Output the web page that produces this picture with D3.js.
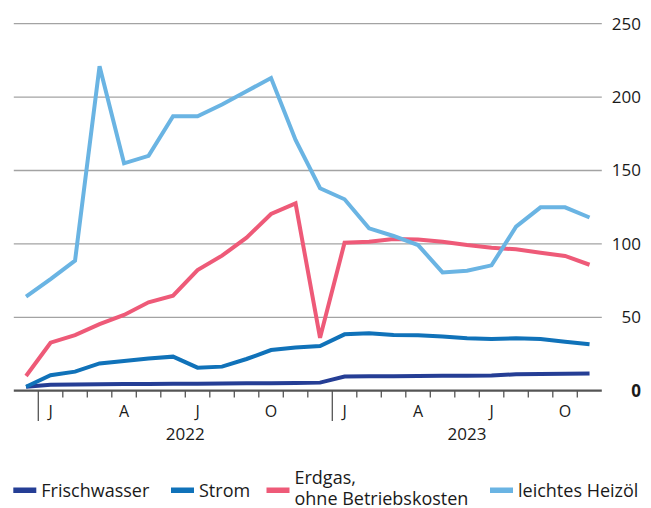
<!DOCTYPE html>
<html>
<head>
<meta charset="utf-8">
<script src="https://cdn.jsdelivr.net/npm/d3@7"></script>
<style>
  body { margin: 0; background: #fff; }
  svg { font-family: "Open Sans", sans-serif; }
</style>
</head>
<body>
<svg width="651" height="508"></svg>
<script>
// months Dec 2021 .. Nov 2023
var months = ["2021-12",
  "2022-01","2022-02","2022-03","2022-04","2022-05","2022-06","2022-07","2022-08","2022-09","2022-10","2022-11","2022-12",
  "2023-01","2023-02","2023-03","2023-04","2023-05","2023-06","2023-07","2023-08","2023-09","2023-10","2023-11"];

var frischwasser = [2.7, 4.0, 4.2, 4.4, 4.5, 4.6, 4.7, 4.8, 4.9, 5.0, 5.1, 5.3, 5.5,
  9.7, 9.8, 9.9, 10.0, 10.1, 10.2, 10.3, 11.2, 11.4, 11.6, 11.8];
var strom = [2.7, 10.5, 13, 18.6, 20.2, 22, 23.2, 15.7, 16.4, 21.6, 27.7, 29.5, 30.4,
  38.4, 39.1, 37.9, 37.7, 37, 35.7, 35.2, 35.7, 35.2, 33.4, 31.6];
var erdgas = [10, 32.7, 37.9, 45.4, 51.6, 60.2, 64.7, 82.2, 92, 104.2, 120.4, 127.6, 36,
  100.8, 101.5, 103.3, 103, 101.5, 99.2, 97.4, 96.3, 94, 91.8, 85.8];
var heizoel = [64, 76, 88.6, 221, 154.9, 160, 187, 187, 195, 204, 213, 170.8, 137.9,
  130.4, 110.6, 105.4, 99.2, 80.6, 81.7, 85.4, 111.7, 124.9, 124.9, 118];

var seriesNames = ["Frischwasser", "Strom", "Erdgas,|ohne Betriebskosten", "leichtes Heizöl"];
var seriesColors = ["#253e95", "#1072b9", "#ee5a78", "#6ab4e3"];
var yTicks = [0, 50, 100, 150, 200, 250];
var monthLetters = ["J","F","M","A","M","J","J","A","S","O","N","D"];
var years = ["2022", "2023"];

var svg = d3.select("svg");

var x = d3.scaleBand()
    .domain(months)
    .range([13.8, 601.8])
    .padding(0);

var y = d3.scaleLinear()
    .domain([0, 250])
    .range([390.7, 23.7]);

var cx = function(m) { return x(m) + x.bandwidth() / 2; };

// grid lines
svg.append("g")
  .selectAll("line")
  .data(yTicks.filter(function(d) { return d > 0; }))
  .enter().append("line")
    .attr("x1", 13.8)
    .attr("x2", 601.8)
    .attr("y1", function(d) { return y(d); })
    .attr("y2", function(d) { return y(d); })
    .attr("stroke", "#a3a3a3")
    .attr("stroke-width", 1.3);

// y labels on the right
svg.append("g")
  .selectAll("text")
  .data(yTicks)
  .enter().append("text")
    .attr("x", 641)
    .attr("y", function(d) { return y(d); })
    .attr("dy", "0.35em")
    .attr("text-anchor", "end")
    .attr("font-size", 17)
    .attr("font-weight", function(d) { return d == 0 ? "bold" : "normal"; })
    .attr("fill", "#1a1a1a")
    .text(function(d) { return d; });

// x axis ticks at month boundaries
svg.append("g")
  .selectAll("line")
  .data(months.slice(1))
  .enter().append("line")
    .attr("x1", function(d) { return x(d); })
    .attr("x2", function(d) { return x(d); })
    .attr("y1", y(0))
    .attr("y2", function(d) { return d.slice(5) == "01" ? 421 : 397.5; })
    .attr("stroke", "#555")
    .attr("stroke-width", 1.3);

svg.append("line")
    .attr("x1", 13.8)
    .attr("x2", 601.8)
    .attr("y1", y(0))
    .attr("y2", y(0))
    .attr("stroke", "#555")
    .attr("stroke-width", 2.2);

// month letters
svg.append("g")
  .selectAll("text")
  .data(months.filter(function(d) { return ["01","04","07","10"].indexOf(d.slice(5)) >= 0; }))
  .enter().append("text")
    .attr("x", cx)
    .attr("y", 417)
    .attr("text-anchor", "middle")
    .attr("font-size", 16)
    .attr("fill", "#1a1a1a")
    .text(function(d) { return monthLetters[+d.slice(5) - 1]; });

// year labels
svg.append("g")
  .selectAll("text")
  .data(years)
  .enter().append("text")
    .attr("x", function(yr) {
      var ms = months.filter(function(m) { return m.slice(0, 4) == yr; });
      return (x(ms[0]) + x(ms[ms.length - 1]) + x.bandwidth()) / 2;
    })
    .attr("y", 440)
    .attr("text-anchor", "middle")
    .attr("font-size", 17)
    .attr("fill", "#1a1a1a")
    .text(function(d) { return d; });

// lines
var line = d3.line()
    .x(function(d, i) { return cx(months[i]); })
    .y(function(d) { return y(d); });

var allSeries = [frischwasser, strom, erdgas, heizoel];

svg.append("g")
  .selectAll("path")
  .data(allSeries)
  .enter().append("path")
    .attr("d", line)
    .attr("fill", "none")
    .attr("stroke", function(d, i) { return seriesColors[i]; })
    .attr("stroke-width", 4)
    .attr("stroke-linejoin", "miter");

// legend
var legendX = [13.3, 171, 266.5, 490];
var legend = svg.append("g")
  .selectAll("g")
  .data(seriesNames)
  .enter().append("g")
    .attr("transform", function(d, i) { return "translate(" + legendX[i] + ",0)"; });

legend.append("rect")
    .attr("x", 0)
    .attr("y", 487.5)
    .attr("width", 23)
    .attr("height", 5.5)
    .attr("fill", function(d, i) { return seriesColors[i]; });

legend.append("text")
    .attr("font-size", 18)
    .attr("fill", "#1a1a1a")
    .each(function(d) {
      var parts = d.split("|");
      var t = d3.select(this);
      if (parts.length == 1) {
        t.append("tspan").attr("x", 28).attr("y", 497).text(parts[0]);
      } else {
        t.append("tspan").attr("x", 28).attr("y", 484).text(parts[0]);
        t.append("tspan").attr("x", 28).attr("y", 504.5).text(parts[1]);
      }
    });
</script>
</body>
</html>
